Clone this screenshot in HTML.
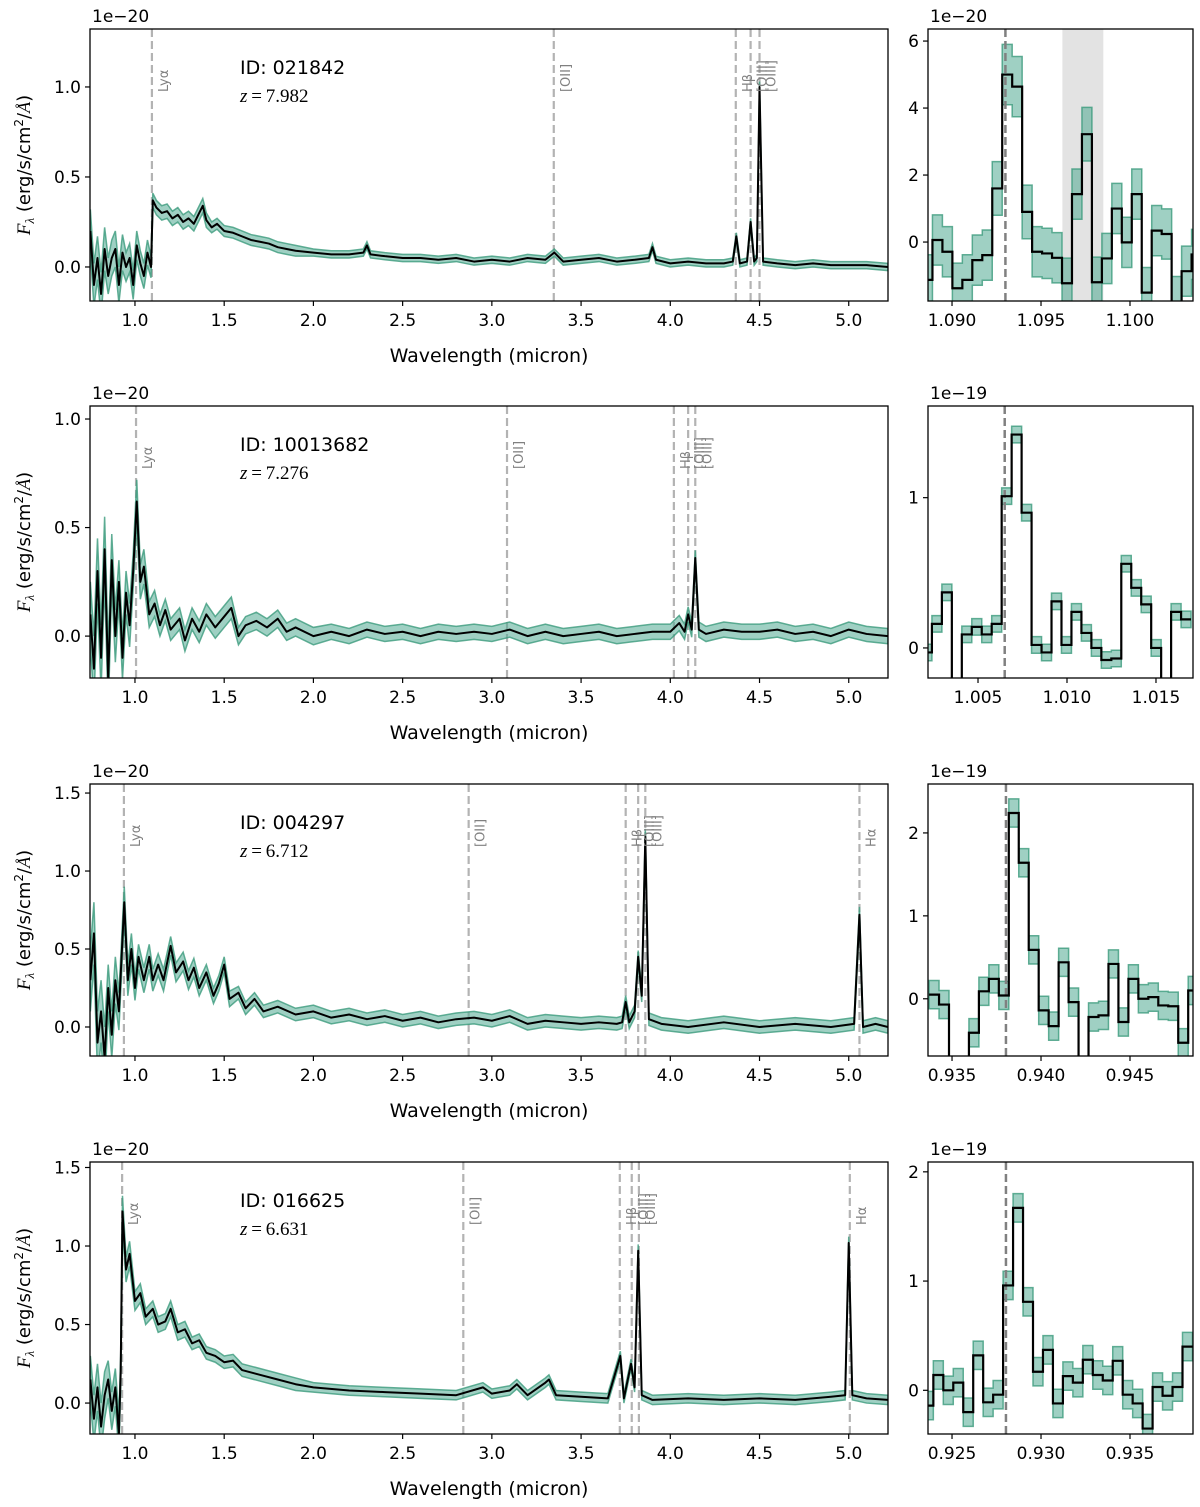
<!DOCTYPE html>
<html><head><meta charset="utf-8">
<style>
html,body{margin:0;padding:0;background:#fff;}
svg{display:block;font-family:"DejaVu Sans","Liberation Sans",sans-serif;}
</style></head>
<body>
<svg id="fig" width="1200" height="1507" viewBox="0 0 1200 1507" xmlns="http://www.w3.org/2000/svg"></svg>
<script>
// ---------- DATA ----------
const ids = ["021842","10013682","004297","016625"];
const redshifts = ["7.982","7.276","6.712","6.631"];
const mainYTicks = [[0,0.5,1.0],[0,0.5,1.0],[0,0.5,1.0,1.5],[0,0.5,1.0,1.5]];
const mainYRange = [[-0.189,1.322],[-0.193,1.06],[-0.186,1.558],[-0.197,1.535]];
const mainXTicks = [1.0,1.5,2.0,2.5,3.0,3.5,4.0,4.5,5.0];
const lineNames = ["Ly\u03b1","[OII]","H\u03b2","[OIII]","[OIII]","H\u03b1"];
const lineWl = [
  [1.095,3.347,4.367,4.45,4.50,null],
  [1.006,3.085,4.02,4.10,4.14,null],
  [0.938,2.87,3.75,3.82,3.86,5.06],
  [0.928,2.84,3.717,3.784,3.824,5.006]
];
const spec1 = [[0.75,0.2,0.12],[0.77,-0.1,0.12],[0.79,0.05,0.12],[0.81,-0.15,0.12],[0.83,0.1,0.12],[0.85,-0.05,0.1],[0.87,0.05,0.1],[0.89,0.1,0.1],[0.91,-0.1,0.1],[0.93,0.08,0.1],[0.95,0.0,0.08],[0.97,0.05,0.08],[0.99,-0.1,0.08],[1.01,0.12,0.08],[1.03,0.02,0.07],[1.05,-0.05,0.07],[1.07,0.08,0.07],[1.09,0.0,0.06],[1.10,0.37,0.04],[1.12,0.33,0.04],[1.15,0.3,0.04],[1.18,0.31,0.04],[1.21,0.27,0.04],[1.24,0.29,0.04],[1.27,0.25,0.04],[1.30,0.27,0.04],[1.33,0.24,0.04],[1.36,0.3,0.04],[1.38,0.34,0.04],[1.40,0.26,0.04],[1.43,0.22,0.03],[1.46,0.24,0.03],[1.50,0.2,0.03],[1.55,0.19,0.03],[1.60,0.17,0.03],[1.65,0.15,0.03],[1.70,0.14,0.03],[1.75,0.13,0.03],[1.80,0.11,0.03],[1.85,0.10,0.03],[1.90,0.09,0.03],[2.0,0.08,0.02],[2.1,0.07,0.02],[2.2,0.07,0.02],[2.28,0.08,0.02],[2.30,0.12,0.02],[2.32,0.07,0.02],[2.4,0.06,0.02],[2.5,0.05,0.02],[2.6,0.05,0.02],[2.7,0.04,0.02],[2.8,0.05,0.02],[2.9,0.03,0.02],[3.0,0.04,0.02],[3.1,0.03,0.02],[3.2,0.05,0.02],[3.3,0.04,0.02],[3.35,0.08,0.02],[3.4,0.03,0.02],[3.5,0.04,0.02],[3.6,0.05,0.02],[3.7,0.03,0.02],[3.8,0.04,0.02],[3.88,0.05,0.02],[3.90,0.11,0.02],[3.92,0.04,0.02],[4.0,0.02,0.02],[4.1,0.03,0.02],[4.2,0.02,0.02],[4.3,0.02,0.02],[4.35,0.03,0.02],[4.37,0.17,0.02],[4.39,0.02,0.02],[4.43,0.03,0.02],[4.45,0.25,0.02],[4.47,0.03,0.02],[4.485,0.05,0.02],[4.50,1.0,0.03],[4.52,0.03,0.02],[4.6,0.02,0.02],[4.7,0.01,0.02],[4.8,0.02,0.02],[4.9,0.01,0.02],[5.0,0.01,0.02],[5.1,0.01,0.02],[5.22,0.0,0.02]];
const spec2 = [[0.75,0.1,0.15],[0.77,-0.15,0.15],[0.79,0.3,0.15],[0.81,-0.1,0.15],[0.83,0.4,0.15],[0.85,-0.2,0.15],[0.87,0.35,0.12],[0.89,0.0,0.12],[0.91,0.25,0.1],[0.93,-0.1,0.1],[0.95,0.2,0.1],[0.97,0.05,0.1],[0.99,0.3,0.08],[1.01,0.62,0.1],[1.03,0.25,0.08],[1.05,0.32,0.08],[1.08,0.1,0.06],[1.11,0.15,0.06],[1.14,0.05,0.05],[1.17,0.12,0.05],[1.2,0.03,0.05],[1.25,0.08,0.05],[1.28,-0.02,0.05],[1.32,0.08,0.05],[1.36,0.02,0.05],[1.4,0.1,0.05],[1.45,0.04,0.05],[1.5,0.09,0.05],[1.54,0.13,0.05],[1.58,0.0,0.04],[1.62,0.05,0.04],[1.68,0.07,0.04],[1.74,0.04,0.04],[1.8,0.08,0.04],[1.85,0.02,0.04],[1.9,0.04,0.04],[2.0,0.0,0.04],[2.1,0.02,0.035],[2.2,0.0,0.035],[2.3,0.03,0.035],[2.4,0.01,0.035],[2.5,0.02,0.035],[2.6,0.0,0.035],[2.7,0.02,0.035],[2.8,0.01,0.035],[2.9,0.02,0.035],[3.0,0.01,0.035],[3.1,0.03,0.035],[3.2,0.0,0.035],[3.3,0.02,0.035],[3.4,0.0,0.035],[3.5,0.01,0.035],[3.6,0.02,0.035],[3.7,0.0,0.035],[3.8,0.01,0.035],[3.9,0.02,0.035],[4.0,0.02,0.035],[4.05,0.06,0.035],[4.08,0.02,0.035],[4.1,0.1,0.035],[4.12,0.03,0.035],[4.14,0.36,0.035],[4.16,0.03,0.035],[4.2,0.01,0.035],[4.3,0.03,0.035],[4.4,0.02,0.035],[4.5,0.02,0.035],[4.6,0.03,0.035],[4.7,0.01,0.035],[4.8,0.02,0.035],[4.9,0.0,0.035],[5.0,0.03,0.035],[5.1,0.01,0.035],[5.22,0.0,0.035]];
const spec3 = [[0.75,0.3,0.2],[0.77,0.6,0.2],[0.79,-0.1,0.2],[0.81,0.1,0.2],[0.83,-0.2,0.2],[0.85,0.25,0.15],[0.87,-0.05,0.15],[0.89,0.3,0.15],[0.91,0.1,0.12],[0.94,0.8,0.1],[0.96,0.3,0.1],[0.98,0.5,0.1],[1.0,0.25,0.08],[1.02,0.45,0.08],[1.05,0.3,0.08],[1.08,0.45,0.08],[1.1,0.3,0.07],[1.13,0.4,0.07],[1.16,0.3,0.07],[1.2,0.52,0.06],[1.23,0.35,0.06],[1.27,0.42,0.06],[1.3,0.3,0.06],[1.33,0.38,0.06],[1.36,0.25,0.05],[1.4,0.35,0.05],[1.44,0.2,0.05],[1.47,0.28,0.05],[1.5,0.4,0.05],[1.53,0.18,0.05],[1.58,0.22,0.04],[1.62,0.12,0.04],[1.67,0.18,0.04],[1.72,0.1,0.04],[1.8,0.13,0.04],[1.9,0.08,0.04],[2.0,0.1,0.04],[2.1,0.06,0.04],[2.2,0.08,0.04],[2.3,0.05,0.04],[2.4,0.07,0.04],[2.5,0.04,0.04],[2.6,0.06,0.04],[2.7,0.03,0.04],[2.8,0.05,0.04],[2.9,0.06,0.04],[3.0,0.04,0.04],[3.1,0.07,0.04],[3.2,0.02,0.04],[3.3,0.04,0.04],[3.4,0.03,0.04],[3.5,0.02,0.04],[3.6,0.03,0.04],[3.7,0.02,0.04],[3.73,0.03,0.04],[3.75,0.16,0.04],[3.77,0.03,0.04],[3.8,0.1,0.04],[3.82,0.45,0.04],[3.84,0.2,0.04],[3.86,1.22,0.05],[3.88,0.05,0.04],[3.95,0.02,0.04],[4.1,0.0,0.04],[4.3,0.03,0.04],[4.5,0.0,0.04],[4.7,0.02,0.04],[4.9,0.0,0.04],[5.03,0.02,0.04],[5.06,0.72,0.05],[5.08,0.0,0.04],[5.15,0.02,0.04],[5.22,0.0,0.04]];
const spec4 = [[0.75,0.15,0.15],[0.77,-0.1,0.15],[0.79,0.1,0.15],[0.81,-0.15,0.15],[0.83,0.05,0.15],[0.85,0.15,0.12],[0.87,-0.05,0.12],[0.89,0.1,0.12],[0.91,-0.2,0.12],[0.92,0.2,0.1],[0.93,1.22,0.1],[0.95,0.85,0.08],[0.97,0.95,0.08],[1.0,0.65,0.06],[1.03,0.7,0.06],[1.06,0.55,0.05],[1.1,0.6,0.05],[1.13,0.5,0.05],[1.17,0.52,0.05],[1.2,0.6,0.05],[1.24,0.45,0.05],[1.28,0.47,0.05],[1.32,0.38,0.04],[1.36,0.4,0.04],[1.4,0.32,0.04],[1.45,0.3,0.04],[1.5,0.26,0.04],[1.55,0.27,0.04],[1.6,0.21,0.04],[1.7,0.18,0.04],[1.8,0.15,0.04],[1.9,0.12,0.04],[2.0,0.1,0.03],[2.2,0.08,0.03],[2.4,0.07,0.03],[2.6,0.06,0.03],[2.8,0.05,0.03],[2.95,0.1,0.03],[3.0,0.06,0.03],[3.1,0.08,0.03],[3.14,0.12,0.03],[3.2,0.05,0.03],[3.3,0.13,0.03],[3.32,0.15,0.03],[3.36,0.05,0.03],[3.5,0.04,0.03],[3.65,0.03,0.03],[3.72,0.3,0.03],[3.74,0.03,0.03],[3.78,0.25,0.03],[3.8,0.1,0.03],[3.82,0.97,0.04],[3.84,0.05,0.03],[3.9,0.02,0.03],[4.1,0.03,0.03],[4.3,0.02,0.03],[4.5,0.03,0.03],[4.7,0.02,0.03],[4.9,0.04,0.03],[4.98,0.05,0.03],[5.0,1.02,0.04],[5.02,0.05,0.03],[5.1,0.03,0.03],[5.22,0.02,0.03]];
const specs = [spec1,spec2,spec3,spec4];

// zoom panels
const zStart = [1.08834,1.00185,0.93371,0.92339];
const zStep = 0.00056;
const zVals1 = [-1.13,0.06,-0.29,-1.38,-1.13,-0.54,-0.39,1.60,5.00,4.64,0.90,-0.29,-0.34,-0.47,-1.23,1.43,3.22,-1.20,-0.49,1.00,-0.01,1.43,-1.51,0.34,0.24,-1.78,-0.87,-0.37];
const zErr1 = [0.75,0.75,0.75,0.75,0.75,0.75,0.75,0.8,0.9,0.9,0.8,0.75,0.75,0.75,0.75,0.75,0.8,0.75,0.75,0.75,0.75,0.75,0.75,0.75,0.75,0.75,0.75,0.75];
const zVals2 = [-0.03,0.16,0.37,-0.27,0.09,0.14,0.09,0.16,1.01,1.42,0.90,0.02,-0.03,0.31,0.02,0.24,0.10,0.00,-0.08,-0.07,0.56,0.40,0.29,0.00,-0.27,0.24,0.19];
const zVals3 = [0.05,-0.07,-0.9,-0.9,-0.41,0.09,0.24,0.04,2.24,1.64,0.59,-0.14,-0.33,0.44,-0.04,-0.9,-0.22,-0.2,0.42,-0.28,0.24,0.0,0.02,-0.08,-0.09,-0.53,0.1];
const zVals4 = [-0.14,0.14,0.0,0.07,-0.2,0.32,-0.11,-0.04,0.96,1.67,0.81,0.17,0.37,-0.12,0.13,0.07,0.28,0.14,0.09,0.27,-0.04,-0.12,-0.35,0.03,-0.05,0.03,0.40];
const zVals = [zVals1,zVals2,zVals3,zVals4];
const zErrs = [zErr1,0.055,0.17,0.13];
const zXRange = [[1.08865,1.10354],[1.00219,1.01708],[0.93365,0.94854],[0.92365,0.93854]];
const zYRange = [[-1.76,6.36],[-0.2,1.61],[-0.69,2.59],[-0.40,2.09]];
const zXTicks = [[1.090,1.095,1.100],[1.005,1.010,1.015],[0.935,0.940,0.945],[0.925,0.930,0.935]];
const zYTicks = [[0,2,4,6],[0,1],[0,1,2],[0,1,2]];
const zOffset = ["1e\u221220","1e\u221219","1e\u221219","1e\u221219"];
const zLyaWl = [1.0930,1.0065,0.93803,0.92803];
const grayBand = [1.0962,1.0985];

// ---------- DRAW ----------
const NS="http://www.w3.org/2000/svg";
const svg=document.getElementById('fig');
function el(tag,attrs,parent){const e=document.createElementNS(NS,tag);for(const k in attrs)e.setAttribute(k,attrs[k]);(parent||svg).appendChild(e);return e;}
const rowTops=[29,406,784,1162], H=272;
const ML=90, MR=888, ZL=928, ZR=1193;
const TEAL_FILL="rgba(80,170,145,0.55)", TEAL_EDGE="rgba(60,155,125,0.8)";

for(let r=0;r<4;r++){
  const top=rowTops[r], bot=top+H;
  const g=el('g',{});
  
  
  const [y0,y1]=mainYRange[r];
  const xs=v=>ML+(v-0.748)/(5.22-0.748)*(MR-ML);
  const ys=v=>bot-(v-y0)/(y1-y0)*H;
  const cp=el('clipPath',{id:'cm'+r},g); el('rect',{x:ML,y:top,width:MR-ML,height:H},cp);
  const dg=el('g',{'clip-path':'url(#cm'+r+')'},g);
  lineWl[r].forEach((w,i)=>{ if(w===null)return;
    const l=el('line',{x1:xs(w),x2:xs(w),y1:top,y2:bot,stroke:'#b3b3b3','stroke-width':2.2,'stroke-dasharray':'8,4'},dg);
    
    
    const t=el('text',{x:xs(w)+16,y:top+63,'font-size':13,fill:'#808080',transform:'rotate(-90 '+(xs(w)+16)+' '+(top+63)+')'},g);
    t.textContent=lineNames[i];
    
    
  });
  const sp=specs[r];
  let up=sp.map(p=>xs(p[0])+','+ys(p[1]+p[2])).join(' ');
  let lo=sp.slice().reverse().map(p=>xs(p[0])+','+ys(p[1]-p[2])).join(' ');
  const band=el('polygon',{points:up+' '+lo,fill:TEAL_FILL,stroke:TEAL_EDGE,'stroke-width':1.5},dg);
  
  
  const pl=el('polyline',{points:sp.map(p=>xs(p[0])+','+ys(p[1])).join(' '),fill:'none',stroke:'#000','stroke-width':2,'stroke-linejoin':'round'},dg);
  
  
  el('rect',{x:ML,y:top,width:MR-ML,height:H,fill:'none',stroke:'#000','stroke-width':1.3},g);
  mainXTicks.forEach(v=>{el('line',{x1:xs(v),x2:xs(v),y1:bot,y2:bot+5,stroke:'#000','stroke-width':1.2},g);
    const t=el('text',{x:xs(v),y:bot+25,'font-size':17,'text-anchor':'middle'},g);t.textContent=v.toFixed(1);
    });
  mainYTicks[r].forEach(v=>{el('line',{x1:ML-5,x2:ML,y1:ys(v),y2:ys(v),stroke:'#000','stroke-width':1.2},g);
    const t=el('text',{x:ML-9,y:ys(v)+6,'font-size':17,'text-anchor':'end'},g);t.textContent=v.toFixed(1);
    });
  let t=el('text',{x:ML+2,y:top-7,'font-size':17},g);t.textContent='1e\u221220';
  
  t=el('text',{x:(ML+MR)/2,y:bot+61,'font-size':19,'text-anchor':'middle'},g);t.textContent='Wavelength (micron)';
  
  const cy=top+H/2;
  t=el('text',{x:30,y:cy,'font-size':18,'text-anchor':'middle',transform:'rotate(-90 30 '+cy+')'},g);
  t.innerHTML='<tspan font-family="Liberation Serif,serif" font-style="italic" font-size="19">F</tspan><tspan font-family="Liberation Serif,serif" font-style="italic" font-size="13" dy="4">λ</tspan><tspan dy="-4"> (erg/s/cm</tspan><tspan font-size="12" dy="-7">2</tspan><tspan dy="7">/</tspan><tspan font-family="Liberation Serif,serif" font-style="italic">Å</tspan><tspan>)</tspan>';
  
  t=el('text',{x:240,y:top+45,'font-size':19},g);t.textContent='ID: '+ids[r];
  
  t=el('text',{x:240,y:top+73,'font-size':19,'font-family':'Liberation Serif,serif'},g);
  t.innerHTML='<tspan font-style="italic">z</tspan>\u2009=\u2009'+redshifts[r];
  

  const z=el('g',{});
  
  
  const [zx0,zx1]=zXRange[r],[zy0,zy1]=zYRange[r];
  const zx=v=>ZL+(v-zx0)/(zx1-zx0)*(ZR-ZL);
  const zy=v=>bot-(v-zy0)/(zy1-zy0)*H;
  const cz=el('clipPath',{id:'cz'+r},z); el('rect',{x:ZL,y:top,width:ZR-ZL,height:H},cz);
  const zg=el('g',{'clip-path':'url(#cz'+r+')'},z);
  if(r===0){const gb=el('rect',{x:zx(grayBand[0]),y:top,width:zx(grayBand[1])-zx(grayBand[0]),height:H,fill:'#e3e3e3'},zg);
    }
  const vals=zVals[r], errs=zErrs[r];
  const E=i=>Array.isArray(errs)?errs[i]:errs;
  let uP=[],lP=[],mP=[];
  vals.forEach((v,i)=>{const a=zx(zStart[r]+i*zStep),b=zx(zStart[r]+(i+1)*zStep);
    uP.push(a+','+zy(v+E(i)),b+','+zy(v+E(i)));lP.push(a+','+zy(v-E(i)),b+','+zy(v-E(i)));mP.push(a+','+zy(v),b+','+zy(v));});
  const zb=el('polygon',{points:uP.join(' ')+' '+lP.reverse().join(' '),fill:TEAL_FILL,stroke:TEAL_EDGE,'stroke-width':1.5},zg);
  
  const lyaL=el('line',{x1:zx(zLyaWl[r]),x2:zx(zLyaWl[r]),y1:top,y2:bot,stroke:'#808080','stroke-width':2.5,'stroke-dasharray':'8,4'},zg);
  
  const zl=el('polyline',{points:mP.join(' '),fill:'none',stroke:'#000','stroke-width':2.2},zg);
  
  el('rect',{x:ZL,y:top,width:ZR-ZL,height:H,fill:'none',stroke:'#000','stroke-width':1.3},z);
  zXTicks[r].forEach(v=>{el('line',{x1:zx(v),x2:zx(v),y1:bot,y2:bot+5,stroke:'#000','stroke-width':1.2},z);
    const t2=el('text',{x:zx(v),y:bot+25,'font-size':17,'text-anchor':'middle'},z);t2.textContent=v.toFixed(3);
    });
  zYTicks[r].forEach(v=>{el('line',{x1:ZL-5,x2:ZL,y1:zy(v),y2:zy(v),stroke:'#000','stroke-width':1.2},z);
    const t2=el('text',{x:ZL-9,y:zy(v)+6,'font-size':17,'text-anchor':'end'},z);t2.textContent=String(v);
    });
  t=el('text',{x:ZL+2,y:top-7,'font-size':17},z);t.textContent=zOffset[r];
  
}
</script>
</body></html>
